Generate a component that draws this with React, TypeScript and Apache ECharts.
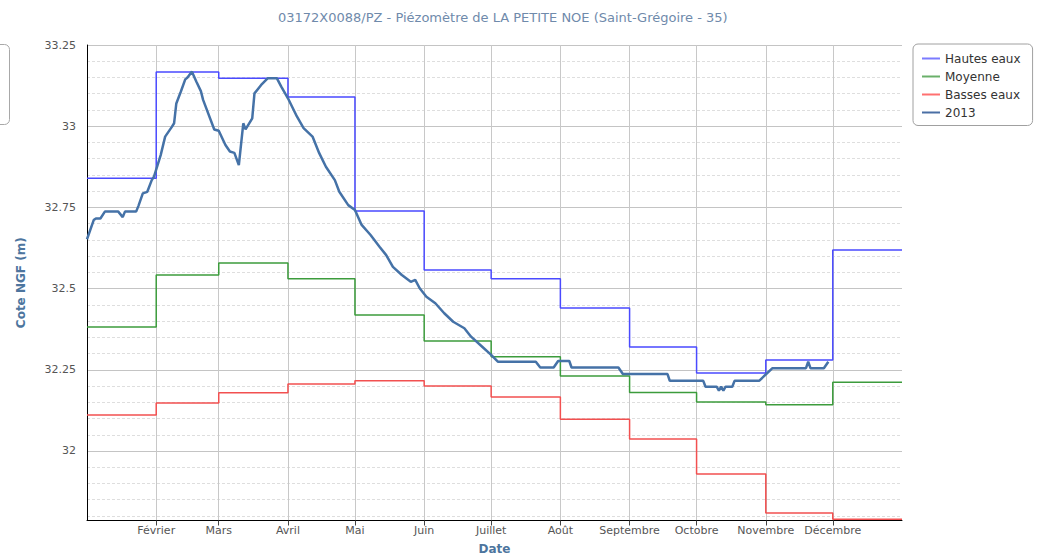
import React, { useEffect, useRef } from "react";
import * as echarts from "echarts";

const TITLE = "03172X0088/PZ - Piézomètre de LA PETITE NOE (Saint-Grégoire - 35)";

// Month boundaries (step series points); last point closes December
const monthStarts = [
  "2013-01-01", "2013-02-01", "2013-03-01", "2013-04-01", "2013-05-01", "2013-06-01",
  "2013-07-01", "2013-08-01", "2013-09-01", "2013-10-01", "2013-11-01", "2013-12-01",
  "2014-01-01",
];

const hautesEaux = [32.84, 33.167, 33.148, 33.09, 32.739, 32.557, 32.53, 32.44, 32.32, 32.24, 32.28, 32.619];
const moyenne = [32.382, 32.542, 32.579, 32.53, 32.419, 32.339, 32.29, 32.231, 32.18, 32.151, 32.142, 32.212];
const bassesEaux = [32.111, 32.148, 32.179, 32.206, 32.216, 32.2, 32.166, 32.098, 32.037, 31.929, 31.809, 31.79];

// 2013 observations
const obsDates = [
  "2013-01-01", "2013-01-04", "2013-01-05", "2013-01-07", "2013-01-09", "2013-01-15", "2013-01-17", "2013-01-18",
  "2013-01-23", "2013-01-24", "2013-01-26", "2013-01-28", "2013-01-30", "2013-01-31", "2013-02-03", "2013-02-05",
  "2013-02-08", "2013-02-09", "2013-02-10", "2013-02-12", "2013-02-14", "2013-02-15", "2013-02-17", "2013-02-19",
  "2013-02-21", "2013-02-22", "2013-02-27", "2013-03-01", "2013-03-04", "2013-03-06", "2013-03-08", "2013-03-10",
  "2013-03-12", "2013-03-13", "2013-03-16", "2013-03-17", "2013-03-20", "2013-03-23", "2013-03-27", "2013-03-29",
  "2013-04-01", "2013-04-05", "2013-04-08", "2013-04-12", "2013-04-15", "2013-04-18", "2013-04-22", "2013-04-24",
  "2013-04-28", "2013-05-01", "2013-05-04", "2013-05-08", "2013-05-12", "2013-05-15", "2013-05-18", "2013-05-22",
  "2013-05-26", "2013-05-28", "2013-05-30", "2013-06-02", "2013-06-06", "2013-06-10", "2013-06-14", "2013-06-19",
  "2013-06-22", "2013-06-27", "2013-07-01", "2013-07-04", "2013-07-21", "2013-07-23", "2013-07-29", "2013-07-31",
  "2013-08-05", "2013-08-06", "2013-08-27", "2013-08-29", "2013-09-18", "2013-09-19", "2013-10-04", "2013-10-05",
  "2013-10-10", "2013-10-11", "2013-10-12", "2013-10-13", "2013-10-14", "2013-10-17", "2013-10-18", "2013-10-29",
  "2013-11-04", "2013-11-19", "2013-11-20", "2013-11-21", "2013-11-27", "2013-11-29",
];
const obsValues = [
  32.652, 32.711, 32.716, 32.716, 32.737, 32.737, 32.72, 32.737,
  32.737, 32.754, 32.793, 32.798, 32.834, 32.845, 32.911, 32.968,
  32.998, 33.009, 33.07, 33.106, 33.144, 33.15, 33.168, 33.137,
  33.108, 33.081, 32.99, 32.986, 32.942, 32.922, 32.918, 32.88,
  33.009, 32.99, 33.024, 33.101, 33.127, 33.148, 33.148, 33.122,
  33.086, 33.03, 32.994, 32.968, 32.917, 32.875, 32.834, 32.798,
  32.757, 32.742, 32.696, 32.665, 32.629, 32.603, 32.567, 32.542,
  32.521, 32.527, 32.501, 32.475, 32.455, 32.424, 32.398, 32.378,
  32.352, 32.321, 32.296, 32.275, 32.275, 32.257, 32.257, 32.277,
  32.277, 32.257, 32.257, 32.237, 32.237, 32.216, 32.216, 32.198,
  32.198, 32.186, 32.198, 32.186, 32.198, 32.198, 32.216, 32.216,
  32.255, 32.255, 32.275, 32.255, 32.255, 32.275,
];

// X tick labels
const xTickDates = [
  "2013-02-01", "2013-03-01", "2013-04-01", "2013-05-01", "2013-06-01", "2013-07-01",
  "2013-08-01", "2013-09-01", "2013-10-01", "2013-11-01", "2013-12-01",
];
const xTickLabels = [
  "Février", "Mars", "Avril", "Mai", "Juin", "Juillet",
  "Août", "Septembre", "Octobre", "Novembre", "Décembre",
];

// Y ticks
const yMajorTicks = [32, 32.25, 32.5, 32.75, 33, 33.25];
const yMinorTicks = [
  31.8, 31.85, 31.9, 31.95, 32.05, 32.1, 32.15, 32.2, 32.3, 32.35, 32.4, 32.45,
  32.55, 32.6, 32.65, 32.7, 32.8, 32.85, 32.9, 32.95, 33.05, 33.1, 33.15, 33.2,
];
const yMin = 31.786;
const yMax = 33.25;

const toTs = (s: string) => {
  const [y, m, d] = s.split("-").map(Number);
  return new Date(y, m - 1, d).getTime();
};

const FONT = "DejaVu Sans";

export default function App() {
  const ref = useRef<HTMLDivElement>(null);

  useEffect(() => {
    if (!ref.current) return;
    const chart = echarts.init(ref.current, undefined, { renderer: "svg", width: 1046, height: 558 });

    const monthTs = monthStarts.map(toTs);
    const stepData = (vals: number[]) =>
      monthTs.map((t, i) => [t, vals[Math.min(i, vals.length - 1)]]);
    const xTicks = xTickDates.map(toTs);
    const obsData = obsDates.map((d, i) => [toTs(d), obsValues[i]]);

    chart.setOption({
      animation: false,
      textStyle: { fontFamily: FONT },
      title: {
        text: TITLE,
        left: 278,
        top: 11,
        padding: 0,
        textStyle: { fontSize: 13, fontWeight: "normal", color: "#6f8aab", fontFamily: FONT },
      },
      legend: {
        orient: "vertical",
        left: 913,
        top: 44,
        padding: [5.5, 12, 4, 9],
        icon: "rect",
        itemWidth: 18,
        itemHeight: 2,
        itemGap: 0,
        borderColor: "#a0a0a0",
        borderWidth: 1,
        borderRadius: 5,
        textStyle: { fontSize: 12, lineHeight: 18, color: "#333", fontFamily: FONT },
        data: ["Hautes eaux", "Moyenne", "Basses eaux", "2013"],
      },
      graphic: [
        {
          type: "rect",
          shape: { x: -20, y: 44.5, width: 29.5, height: 80, r: 5 },
          style: { fill: "#fff", stroke: "#a8a8a8", lineWidth: 1 },
        },
      ],
      grid: {
        left: 87,
        right: 144,
        top: 45,
        bottom: 37.5,
        containLabel: false,
        outerBoundsMode: "none",
      },
      xAxis: {
        type: "value",
        min: toTs("2013-01-01"),
        max: toTs("2014-01-01"),
        name: "Date",
        nameLocation: "middle",
        nameGap: 22,
        nameTextStyle: { fontSize: 12, fontWeight: "bold", color: "#4d759e", fontFamily: FONT },
        axisLine: { show: true, onZero: false, lineStyle: { color: "#000", width: 1 } },
        axisTick: { show: true, length: 5, customValues: xTicks, lineStyle: { color: "#444" } },
        axisLabel: {
          customValues: xTicks,
          margin: 4,
          fontSize: 11,
          color: "#555",
          formatter: (v: number) => {
            const i = xTicks.indexOf(v);
            return i >= 0 ? xTickLabels[i] : "";
          },
        },
        splitLine: { show: true, lineStyle: { color: "#c8c8c8", width: 1 } },
      },
      yAxis: [
        {
          type: "value",
          min: yMin,
          max: yMax,
          name: "Cote NGF (m)",
          nameLocation: "middle",
          nameGap: 60,
          nameRotate: 90,
          nameTextStyle: { fontSize: 12, fontWeight: "bold", color: "#4d759e", fontFamily: FONT },
          axisLine: { show: true, lineStyle: { color: "#000", width: 1 } },
          axisTick: { show: false, customValues: yMajorTicks },
          axisLabel: {
            customValues: yMajorTicks,
            margin: 11,
            fontSize: 11,
            color: "#555",
            formatter: (v: number) => String(v),
          },
          splitLine: { show: true, lineStyle: { color: "#c4c4c4", width: 1 } },
        },
        {
          type: "value",
          min: yMin,
          max: yMax,
          position: "left",
          axisLine: { show: false },
          axisTick: { show: false, customValues: yMinorTicks },
          axisLabel: { show: false, customValues: yMinorTicks },
          splitLine: { show: true, lineStyle: { color: "#dedede", width: 1, type: [3, 2] } },
        },
      ],
      series: [
        {
          name: "Hautes eaux",
          type: "line",
          step: "end",
          symbol: "none",
          data: stepData(hautesEaux),
          lineStyle: { color: "#4a4aff", width: 1.5 },
          itemStyle: { color: "#7b7bff" },
          z: 3,
        },
        {
          name: "Moyenne",
          type: "line",
          step: "end",
          symbol: "none",
          data: stepData(moyenne),
          lineStyle: { color: "#3c9c3c", width: 1.5 },
          itemStyle: { color: "#6ab06a" },
          z: 3,
        },
        {
          name: "Basses eaux",
          type: "line",
          step: "end",
          symbol: "none",
          data: stepData(bassesEaux),
          lineStyle: { color: "#f25050", width: 1.5 },
          itemStyle: { color: "#ff7070" },
          z: 3,
        },
        {
          name: "2013",
          type: "line",
          symbol: "none",
          data: obsData,
          lineStyle: { color: "#4572a7", width: 2.5 },
          itemStyle: { color: "#4a6fa5" },
          z: 4,
        },
      ],
    });

    return () => chart.dispose();
  }, []);

  return <div ref={ref} style={{ width: 1046, height: 558, position: "absolute", left: 0, top: 0 }} />;
}
